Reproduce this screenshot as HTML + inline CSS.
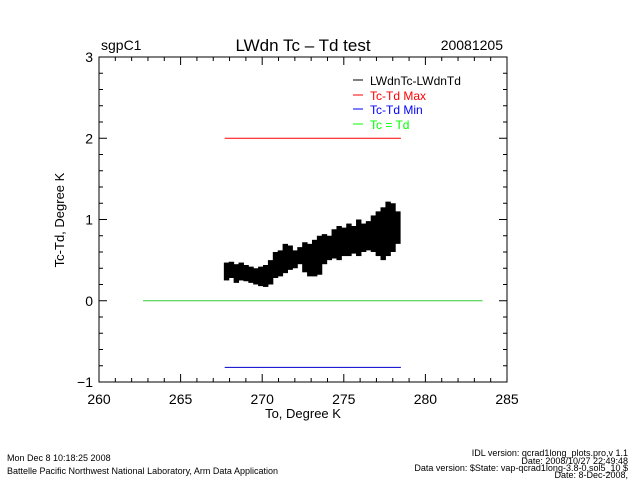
<!DOCTYPE html>
<html><head><meta charset="utf-8"><style>
body{margin:0;background:#fff;width:640px;height:480px;overflow:hidden}
svg{display:block;font-family:"Liberation Sans",sans-serif}
</style></head><body>
<svg id="c" width="640" height="480">
<text x="101" y="50" font-size="14">sgpC1</text>
<text x="303" y="51" font-size="17" text-anchor="middle">LWdn Tc – Td test</text>
<text x="503" y="50" font-size="14" text-anchor="end">20081205</text>
<text x="303" y="418" font-size="13" text-anchor="middle">To, Degree K</text>
<text transform="translate(64,220) rotate(-90)" font-size="13" text-anchor="middle">Tc-Td, Degree K</text>
<g font-size="12">
<line x1="353" y1="80" x2="363" y2="80" stroke="#000"/><text x="370" y="85" fill="#000">LWdnTc-LWdnTd</text>
<line x1="353" y1="95" x2="363" y2="95" stroke="#f00"/><text x="370" y="100" fill="#f00">Tc-Td Max</text>
<line x1="353" y1="109" x2="363" y2="109" stroke="#00f"/><text x="370" y="114" fill="#00f">Tc-Td Min</text>
<line x1="353" y1="124" x2="363" y2="124" stroke="#0f0"/><text x="370" y="129" fill="#0f0">Tc = Td</text>
</g>
<g font-size="9">
<text x="7" y="461">Mon Dec  8 10:18:25 2008</text>
<text x="7" y="474">Battelle Pacific Northwest National Laboratory, Arm Data Application</text>
<g text-anchor="end"><text x="628" y="456">IDL version: qcrad1long_plots.pro,v 1.1</text>
<text x="628" y="464">Date: 2008/10/27 22:49:48</text>
<text x="628" y="471">Data version: $State: vap-qcrad1long-3.8-0.sol5_10 $</text>
<text x="628" y="478">Date: 8-Dec-2008,</text></g>
</g>
</svg>
<script>
const binX=[267.8,268.1,268.4,268.7,269.0,269.3,269.6,269.9,270.2,270.5,270.8,271.1,271.4,271.7,272.0,272.3,272.6,272.9,273.2,273.5,273.8,274.1,274.4,274.7,275.0,275.3,275.6,275.9,276.2,276.5,276.8,277.1,277.4,277.7,278.0,278.3];
const binLo=[0.25,0.28,0.22,0.25,0.24,0.22,0.2,0.18,0.17,0.2,0.28,0.3,0.34,0.38,0.4,0.45,0.35,0.3,0.3,0.32,0.45,0.5,0.52,0.5,0.55,0.55,0.58,0.55,0.6,0.62,0.6,0.55,0.5,0.55,0.6,0.7];
const binHi=[0.47,0.48,0.45,0.47,0.44,0.42,0.4,0.42,0.44,0.5,0.6,0.62,0.7,0.68,0.62,0.66,0.72,0.7,0.75,0.8,0.82,0.8,0.88,0.92,0.9,0.95,0.92,1.0,0.95,0.98,1.05,1.1,1.15,1.22,1.2,1.1];
const xTicks=[260,265,270,275,280,285];
const yTicks=[-1,0,1,2,3];
const maxLine=[267.7,278.5,2.0];
const minLine=[267.7,278.5,-0.82];
const zeroLine=[262.7,283.5,0];
const X0=99,X1=507,Y0=382,Y1=57;
const sx=v=>X0+(v-260)/25*(X1-X0);
const sy=v=>Y0-(v+1)/4*(Y0-Y1);
const svg=document.getElementById('c');const NS='http://www.w3.org/2000/svg';
function mk(t,a){const e=document.createElementNS(NS,t);for(const k in a)e.setAttribute(k,a[k]);svg.appendChild(e);return e;}
let e=mk('rect',{x:X0,y:Y1,width:X1-X0,height:Y0-Y1,fill:'none',stroke:'#000'});


for(let v=260;v<=285;v++){const maj=v%5===0,L=maj?8:4,x=sx(v);
 mk('line',{x1:x,y1:Y0,x2:x,y2:Y0-L,stroke:'#000'});mk('line',{x1:x,y1:Y1,x2:x,y2:Y1+L,stroke:'#000'});}
for(let i=0;i<=20;i++){const v=-1+i*0.2,maj=i%5===0,L=maj?8:4,y=sy(v);
 mk('line',{x1:X0,y1:y,x2:X0+L,y2:y,stroke:'#000'});mk('line',{x1:X1,y1:y,x2:X1-L,y2:y,stroke:'#000'});}
xTicks.forEach(v=>{const t=mk('text',{x:sx(v),y:Y0+22,'font-size':14,'text-anchor':'middle'});t.textContent=v;
 
 });
yTicks.forEach(v=>{const t=mk('text',{x:X0-6,y:sy(v)+5,'font-size':14,'text-anchor':'end'});t.textContent=v<0?'−'+(-v):v;
 
 });
function hl(a,c,n){const l=mk('line',{x1:sx(a[0]),x2:sx(a[1]),y1:sy(a[2]),y2:sy(a[2]),stroke:c});
 
 }
hl(zeroLine,'#3c3','zero-line');hl(maxLine,'#f00','max-line');hl(minLine,'#00c','min-line');
const w=sx(0.3)-sx(0);
binX.forEach((v,i)=>{const r=mk('rect',{x:sx(v)-w/2,y:sy(binHi[i]),width:w+0.5,height:sy(binLo[i])-sy(binHi[i]),fill:'#000'});
 
 });
</script>
</body></html>
